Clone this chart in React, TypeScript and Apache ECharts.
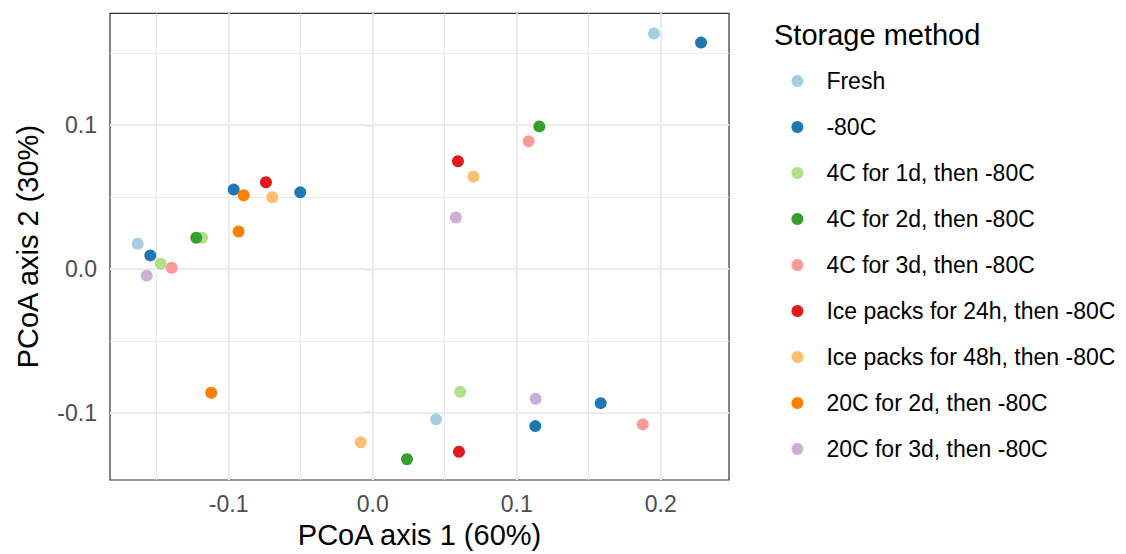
import React, { useEffect, useRef } from "react";
import * as echarts from "echarts";

// Groups (legend order)
const groups = [
  "Fresh",
  "-80C",
  "4C for 1d, then -80C",
  "4C for 2d, then -80C",
  "4C for 3d, then -80C",
  "Ice packs for 24h, then -80C",
  "Ice packs for 48h, then -80C",
  "20C for 2d, then -80C",
  "20C for 3d, then -80C",
];

// [PCoA axis 1, PCoA axis 2] per sample
const fresh = [[-0.1632, 0.0175], [0.1953, 0.1638], [0.044, -0.1047]];
const minus80 = [[-0.1544, 0.0094], [-0.0965, 0.0552], [-0.0503, 0.0533], [0.228, 0.1575], [0.1129, -0.1094], [0.1583, -0.0934]];
const c4d1 = [[-0.1472, 0.0036], [-0.1185, 0.0217], [0.0608, -0.0855]];
const c4d2 = [[-0.1225, 0.0217], [0.1157, 0.0992], [0.0238, -0.1325]];
const c4d3 = [[-0.1396, 0.0008], [0.1083, 0.0888], [0.1875, -0.1082]];
const ice24 = [[-0.0741, 0.0603], [0.0592, 0.0749], [0.0599, -0.1272]];
const ice48 = [[-0.0697, 0.0499], [0.0699, 0.0642], [-0.0083, -0.1207]];
const c20d2 = [[-0.0931, 0.026], [-0.0896, 0.0513], [-0.1121, -0.0862]];
const c20d3 = [[-0.1569, -0.0047], [0.0578, 0.0358], [0.1132, -0.0904]];

const groupData = [fresh, minus80, c4d1, c4d2, c4d3, ice24, ice48, c20d2, c20d3];

const palette = ["#A6CEE3", "#1F78B4", "#B2DF8A", "#33A02C", "#FB9A99", "#E31A1C", "#FDBF6F", "#FF7F00", "#CAB2D6"];

// Axis ticks / grid
const xRange = [-0.1824, 0.2474];
const yRange = [-0.1469, 0.1779];
const xTicks = [-0.1, 0, 0.1, 0.2];
const yTicks = [-0.1, 0, 0.1];
const xMinor = [-0.15, -0.05, 0.05, 0.15];
const yMinor = [-0.05, 0.05, 0.15];

const FONT = "'Liberation Sans', Arial, Helvetica, sans-serif";

export default function App() {
  const ref = useRef<HTMLDivElement>(null);
  useEffect(() => {
    if (!ref.current) return;
    const chart = echarts.init(ref.current, null, { renderer: "svg" });

    const gridLines = [
      ...xTicks.map((v) => ({ xAxis: v, lineStyle: { width: 2 } })),
      ...xMinor.map((v) => ({ xAxis: v, lineStyle: { width: 1 } })),
      ...yTicks.map((v) => ({ yAxis: v, lineStyle: { width: 2 } })),
      ...yMinor.map((v) => ({ yAxis: v, lineStyle: { width: 1 } })),
    ];

    const option: any = {
      animation: false,
      backgroundColor: "#ffffff",
      textStyle: { fontFamily: FONT },
      title: {
        text: "Storage method",
        left: 774,
        top: 20,
        padding: 0,
        textStyle: { fontFamily: FONT, fontSize: 29, fontWeight: "normal", color: "#000000" },
      },
      legend: {
        orient: "vertical",
        left: 791.4,
        top: 69,
        padding: 0,
        icon: "circle",
        itemWidth: 48,
        itemHeight: 12,
        itemGap: 22,
        selectedMode: false,
        data: groups,
        textStyle: { fontFamily: FONT, fontSize: 23, color: "#000000", lineHeight: 24 },
      },
      grid: {
        left: 110,
        top: 13.3,
        right: 397,
        bottom: 73,
        show: true,
        borderColor: "#333333",
        borderWidth: 1.2,
        backgroundColor: "#ffffff",
        containLabel: false,
      },
      xAxis: {
        type: "value",
        min: xRange[0],
        max: xRange[1],
        name: "PCoA axis 1 (60%)",
        nameLocation: "middle",
        nameGap: 40,
        nameTextStyle: { fontFamily: FONT, fontSize: 29, color: "#000000" },
        axisLine: { show: false },
        splitLine: { show: false },
        axisTick: { show: true, length: 8, customValues: xTicks, lineStyle: { color: "#333333", width: 1.2 } },
        axisLabel: {
          customValues: xTicks,
          margin: 12,
          fontFamily: FONT,
          fontSize: 23,
          color: "#4D4D4D",
          formatter: (v: number) => v.toFixed(1),
        },
      },
      yAxis: {
        type: "value",
        min: yRange[0],
        max: yRange[1],
        name: "PCoA axis 2 (30%)",
        nameLocation: "middle",
        nameGap: 68,
        nameRotate: 90,
        nameTextStyle: { fontFamily: FONT, fontSize: 29, color: "#000000" },
        axisLine: { show: false },
        splitLine: { show: false },
        axisTick: { show: true, length: 8, customValues: yTicks, lineStyle: { color: "#333333", width: 1.2 } },
        axisLabel: {
          customValues: yTicks,
          margin: 13,
          fontFamily: FONT,
          fontSize: 23,
          color: "#4D4D4D",
          formatter: (v: number) => v.toFixed(1),
        },
      },
      series: [
        {
          type: "scatter",
          name: "__grid",
          data: [],
          silent: true,
          z: 1,
          markLine: {
            silent: true,
            symbol: ["none", "none"],
            label: { show: false },
            lineStyle: { color: "#EBEBEB", type: "solid" },
            emphasis: { disabled: true },
            data: gridLines,
            z: 1,
          },
        },
        ...groups.map((g, i) => ({
          type: "scatter",
          name: g,
          data: groupData[i],
          symbol: "circle",
          symbolSize: 12,
          itemStyle: { color: palette[i], opacity: 1 },
          z: 3,
        })),
      ],
    };
    chart.setOption(option);
    return () => chart.dispose();
  }, []);
  return (
    <div
      ref={ref}
      style={{ position: "fixed", left: 0, top: 0, width: 1126, height: 554, background: "#fff" }}
    />
  );
}
